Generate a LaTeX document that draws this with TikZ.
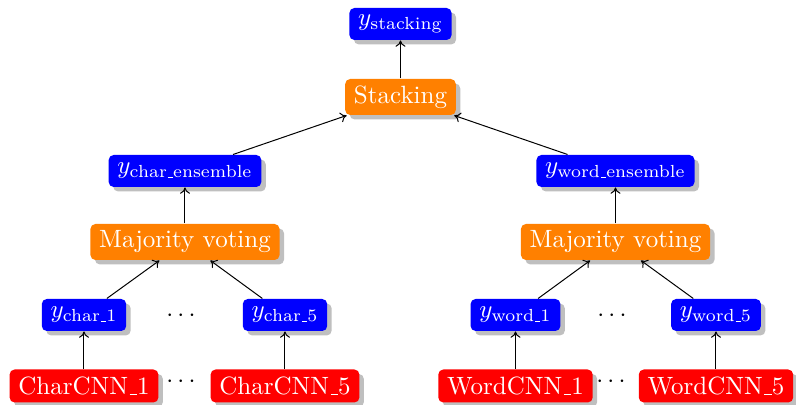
\documentclass[tikz,border=0pt]{standalone}
\usepackage{amsmath}
\usetikzlibrary{shadows,arrows.meta}
\newcommand\usc{\leavevmode\kern.06em\vbox{\hrule width.3em}}
\begin{document}
\begin{tikzpicture}[x=0.4pt,y=-0.4pt,
  box/.style={rounded corners=2pt,text=white,inner xsep=3.5pt,inner ysep=0pt,
    drop shadow={shadow xshift=1.8pt,shadow yshift=-1.8pt,fill=black!25,opacity=1}},
  outbox/.style={box,fill=blue,minimum height=12.8pt},
  opbox/.style={box,fill=orange,minimum height=14.4pt},
  modelbox/.style={box,fill=red,minimum height=13.2pt},
  conn/.style={->,>={To[length=2.5pt,width=4pt]}}]
\useasboundingbox (0,0) rectangle (796,405);
\node[outbox] (ys) at (400.5,24) {$y_{\text{stacking}}$};
\node[opbox] (stack) at (400.5,97) {Stacking};
\node[outbox] (yce) at (185,171) {$y_{\text{char\usc ensemble}}$};
\node[opbox] (mvl) at (185,242) {Majority voting};
\node[outbox] (yc1) at (84,315) {$y_{\text{char\usc 1}}$};
\node[outbox] (yc5) at (285,315) {$y_{\text{char\usc 5}}$};
\node (d1) at (183,316) {$\cdots$};
\node[modelbox] (cc1) at (84,386) {CharCNN\usc 1};
\node[modelbox] (cc5) at (285,386) {CharCNN\usc 5};
\node (d2) at (183,382) {$\cdots$};
\node[outbox] (ywe) at (615.5,171) {$y_{\text{word\usc ensemble}}$};
\node[opbox] (mvr) at (615.5,242) {Majority voting};
\node[outbox] (yw1) at (515.5,315) {$y_{\text{word\usc 1}}$};
\node[outbox] (yw5) at (716,315) {$y_{\text{word\usc 5}}$};
\node (d3) at (614,316) {$\cdots$};
\node[modelbox] (wc1) at (515.5,386) {WordCNN\usc 1};
\node[modelbox] (wc5) at (716,386) {WordCNN\usc 5};
\node (d4) at (613,382) {$\cdots$};
\draw[conn] (stack) -- (ys);
\draw[conn] (yce) -- (stack);
\draw[conn] (ywe) -- (stack);
\draw[conn] (mvl) -- (yce);
\draw[conn] (mvr) -- (ywe);
\draw[conn] (yc1) -- (mvl);
\draw[conn] (yc5) -- (mvl);
\draw[conn] (yw1) -- (mvr);
\draw[conn] (yw5) -- (mvr);
\draw[conn] (cc1) -- (yc1);
\draw[conn] (cc5) -- (yc5);
\draw[conn] (wc1) -- (yw1);
\draw[conn] (wc5) -- (yw5);
\end{tikzpicture}
\end{document}
